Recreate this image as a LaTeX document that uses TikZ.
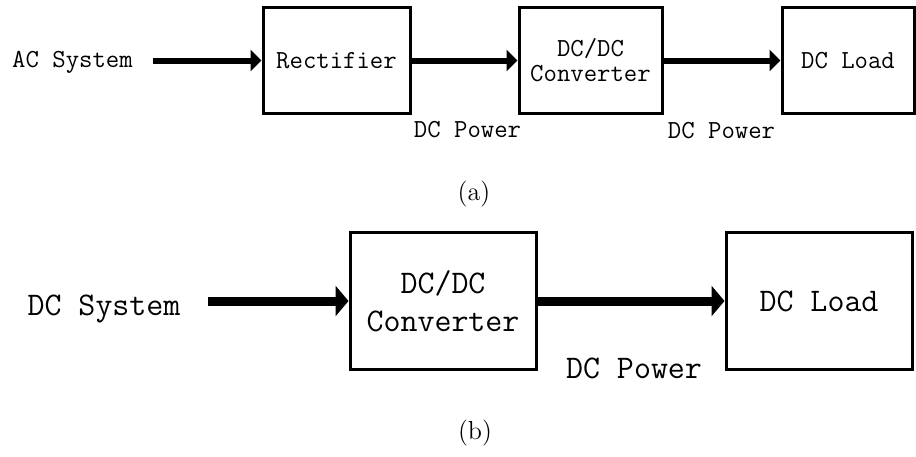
\documentclass[tikz,border=0pt]{standalone}
\usepackage{fontspec}
\usetikzlibrary{arrows.meta}

\begin{document}
\begin{tikzpicture}[x=0.5pt, y=-0.5pt,
	txta/.style = {font=\ttfamily\fontsize{13}{12.5}\selectfont, inner sep=0pt},
	txtb/.style = {font=\ttfamily\fontsize{16.5}{19}\selectfont, inner sep=0pt},
	boxa/.style = {draw, line width=1.5pt, minimum height=53pt, txta, align=center},
	boxb/.style = {draw, line width=1.5pt, minimum height=68.5pt, txtb, align=center},
	flowa/.style = {line width=3pt, -{Triangle[length=5.5pt, width=10.5pt]}},
	flowb/.style = {line width=4.5pt, -{Triangle[length=6.5pt, width=15pt]}},
	capt/.style = {font=\fontsize{13}{15}\selectfont}]
		\useasboundingbox (0,0) rectangle (916,456);
		
		% (a) AC system
		\node [txta, anchor=base] (acsys) at (72.5, 67) {AC System};
		\node [boxa, minimum width=73.5pt] (rect) at (336.5, 60.5) {Rectifier};
		\node [boxa, minimum width=71.5pt] (conva) at (590.5, 60.5) {DC/DC\\Converter};
		\node [boxa, minimum width=66pt] (loada) at (848, 60.5) {DC Load};
		\node [txta, anchor=base] (powa1) at (467.5, 137) {DC Power};
		\node [txta, anchor=base] (powa2) at (721.5, 138) {DC Power};
		
		\draw [flowa, shorten <=10pt] (acsys.east |- rect.west) -- (rect.west);
		\draw [flowa] (rect.east) -- (conva.west);
		\draw [flowa] (conva.east) -- (loada.west);
		
		\node [capt] (capa) at (474, 194) {(a)};
		
		% (b) DC system
		\node [txtb, anchor=base] (dcsys) at (104, 315) {DC System};
		\node [boxb, minimum width=93pt] (convb) at (443, 301) {DC/DC\\Converter};
		\node [boxb, minimum width=93pt] (loadb) at (819, 301) {DC Load};
		\node [txtb, anchor=base] (powb) at (634, 378) {DC Power};
		
		\draw [flowb, shorten <=13.5pt] (dcsys.east |- convb.west) -- (convb.west);
		\draw [flowb] (convb.east) -- (loadb.west);
		
		\node [capt] (capb) at (475, 433) {(b)};
		
\end{tikzpicture}
\end{document}
